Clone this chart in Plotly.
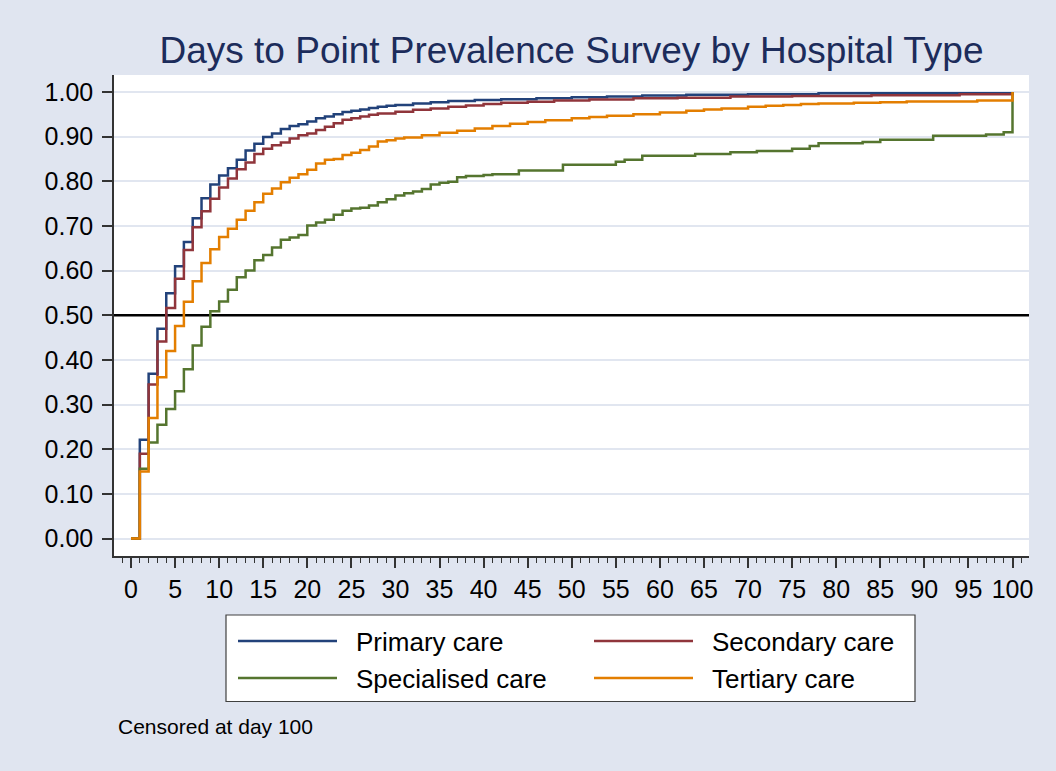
import plotly.graph_objects as go

# ---------------- data ----------------
series_names = ["Primary care", "Secondary care", "Specialised care", "Tertiary care"]
series_colors = ["#22427A", "#90353B", "#55752F", "#E37E00"]

primary_days = [0, 1, 2, 3, 4, 5, 6, 7, 8, 9, 10, 11, 12, 13, 14, 15, 16, 17, 18, 19, 20,
                21, 22, 23, 24, 25, 26, 27, 28, 29, 30, 32, 34, 36, 39, 42, 46, 50, 54, 58,
                63, 70, 78, 100]
primary_vals = [0.0, 0.221, 0.369, 0.470, 0.549, 0.610, 0.664, 0.717, 0.762, 0.793, 0.813,
                0.829, 0.848, 0.869, 0.884, 0.899, 0.907, 0.917, 0.924, 0.928, 0.934,
                0.941, 0.945, 0.950, 0.955, 0.958, 0.961, 0.964, 0.967, 0.969, 0.971,
                0.974, 0.977, 0.980, 0.982, 0.984, 0.986, 0.988, 0.990, 0.992,
                0.994, 0.995, 0.997, 1.0]

secondary_days = [0, 1, 2, 3, 4, 5, 6, 7, 8, 9, 10, 11, 12, 13, 14, 15, 16, 17, 18, 19, 20,
                  21, 22, 23, 24, 25, 26, 27, 28, 30, 32, 34, 36, 38, 40, 42, 45, 48, 52, 57,
                  62, 68, 75, 84, 94, 100]
secondary_vals = [0.0, 0.190, 0.345, 0.441, 0.516, 0.582, 0.646, 0.697, 0.733, 0.761, 0.786,
                  0.806, 0.827, 0.842, 0.861, 0.873, 0.881, 0.887, 0.896, 0.903, 0.907,
                  0.915, 0.922, 0.930, 0.938, 0.941, 0.945, 0.949, 0.952, 0.956, 0.960,
                  0.963, 0.967, 0.970, 0.973, 0.976, 0.978, 0.981, 0.983, 0.986,
                  0.987, 0.990, 0.991, 0.993, 0.995, 1.0]

specialised_days = [0, 1, 2, 3, 4, 5, 6, 7, 8, 9, 10, 11, 12, 13, 14, 15, 16, 17, 18, 19, 20,
                    21, 22, 23, 24, 25, 26, 27, 28, 29, 30, 31, 32, 33, 34, 35, 36, 37, 38, 40,
                    41, 44, 49, 55, 56, 58, 64, 68, 71, 75, 77, 78, 83, 85, 91, 97, 99, 100]
specialised_vals = [0.0, 0.156, 0.215, 0.255, 0.290, 0.330, 0.379, 0.432, 0.474, 0.509, 0.531,
                    0.557, 0.585, 0.600, 0.623, 0.635, 0.652, 0.669, 0.674, 0.680, 0.701,
                    0.708, 0.714, 0.725, 0.734, 0.739, 0.741, 0.746, 0.753, 0.760, 0.768,
                    0.773, 0.777, 0.783, 0.793, 0.797, 0.799, 0.809, 0.812, 0.814,
                    0.816, 0.824, 0.837, 0.844, 0.848, 0.857, 0.861, 0.865, 0.868, 0.873,
                    0.879, 0.885, 0.888, 0.893, 0.902, 0.905, 0.910, 1.0]

tertiary_days = [0, 1, 2, 3, 4, 5, 6, 7, 8, 9, 10, 11, 12, 13, 14, 15, 16, 17, 18, 19, 20,
                 21, 22, 23, 24, 25, 26, 27, 28, 29, 30, 31, 33, 35, 37, 39, 41, 43, 45, 47,
                 50, 52, 54, 57, 60, 63, 65, 67, 70, 72, 74, 76, 78, 82, 85, 88, 96, 100]
tertiary_vals = [0.0, 0.150, 0.270, 0.361, 0.420, 0.476, 0.530, 0.576, 0.617, 0.648, 0.675,
                 0.694, 0.714, 0.734, 0.753, 0.772, 0.784, 0.798, 0.808, 0.816, 0.826,
                 0.840, 0.848, 0.850, 0.859, 0.864, 0.870, 0.878, 0.889, 0.892, 0.896,
                 0.898, 0.903, 0.909, 0.913, 0.918, 0.924, 0.929, 0.933, 0.937,
                 0.941, 0.944, 0.947, 0.950, 0.954, 0.958, 0.961, 0.963, 0.967, 0.969,
                 0.971, 0.973, 0.974, 0.976, 0.977, 0.979, 0.981, 1.0]

y_ticks = [0.0, 0.1, 0.2, 0.3, 0.4, 0.5, 0.6, 0.7, 0.8, 0.9, 1.0]
x_ticks = list(range(0, 101, 5))
reference_line = 0.5

title_text = "Days to Point Prevalence Survey by Hospital Type"
note_text = "Censored at day 100"

# ---------------- figure ----------------
W, H = 1056, 771
ML, MR, MT, MB = 114, 27, 75, 215
PW, PH = W - ML - MR, H - MT - MB

BG = "#E0E5F0"
GRID = "#E1E6F0"
FONT = "Liberation Sans, Arial, sans-serif"

x0_px, x100_px = 131.0, 1012.5
sx = (x100_px - x0_px) / 100.0
xr = [(ML - x0_px) / sx, 100 + (W - MR - x100_px) / sx]
y0_px, y1_px = 538.5, 92.0
sy = (y0_px - y1_px)
yr = [-(H - MB - y0_px) / sy, 1 + (y1_px - MT) / sy]

all_days = [primary_days, secondary_days, specialised_days, tertiary_days]
all_vals = [primary_vals, secondary_vals, specialised_vals, tertiary_vals]

fig = go.Figure()
# horizontal reference line at 0.5 (drawn first so it sits under the curves)
fig.add_trace(go.Scatter(x=xr, y=[reference_line, reference_line], mode="lines",
                         line=dict(color="black", width=2.5), showlegend=False,
                         hoverinfo="skip"))
for name, color, d, v in zip(series_names, series_colors, all_days, all_vals):
    fig.add_trace(go.Scatter(x=d, y=v, mode="lines", name=name,
                             line=dict(color=color, width=2.5, shape="hv"),
                             showlegend=False))

def px_x(px):
    return (px - ML) / PW

def px_y(py):
    return (H - MB - py) / PH

# manual legend (Stata-style box with long line samples)
fig.add_shape(type="rect", xref="paper", yref="paper",
              x0=px_x(226), x1=px_x(915), y0=px_y(701.5), y1=px_y(615),
              line=dict(color="#404040", width=1.2), fillcolor="white", layer="above")
leg_cols = [(238, 337, 354), (594, 693, 710)]
leg_rows = [641, 678]
order = [(0, 0), (1, 0), (0, 1), (1, 1)]  # (col, row) for each series
for i, (c, r) in enumerate(order):
    lx0, lx1, tx = leg_cols[c]
    ly = leg_rows[r]
    fig.add_shape(type="line", xref="paper", yref="paper",
                  x0=px_x(lx0), x1=px_x(lx1), y0=px_y(ly), y1=px_y(ly),
                  line=dict(color=series_colors[i], width=2.5), layer="above")
    fig.add_annotation(xref="paper", yref="paper", x=px_x(tx), y=px_y(ly + 1),
                       xanchor="left", yanchor="middle", showarrow=False,
                       text=series_names[i], font=dict(family=FONT, size=26, color="black"))

fig.add_annotation(xref="paper", yref="paper", x=px_x(116), y=px_y(726),
                   xanchor="left", yanchor="middle", showarrow=False,
                   text=note_text, font=dict(family=FONT, size=21, color="black"))

fig.update_layout(
    width=W, height=H,
    margin=dict(l=ML, r=MR, t=MT, b=MB, pad=0),
    paper_bgcolor=BG, plot_bgcolor="white",
    font=dict(family=FONT, color="black"),
    title=dict(text=title_text, x=0.5, xref="paper", xanchor="center",
               y=1 - 50.5 / H, yref="container", yanchor="middle",
               font=dict(family=FONT, size=37, color="#1C2C5B")),
    showlegend=False,
    xaxis=dict(range=xr, tickvals=x_ticks, ticktext=[str(t) for t in x_ticks],
               ticks="outside", ticklen=10, tickwidth=1.5, tickcolor="#333333",
               minor=dict(dtick=1, tick0=0, ticks="outside", ticklen=5,
                          tickwidth=1.2, tickcolor="#333333", showgrid=False),
               showline=True, linecolor="#333333", linewidth=1.5,
               showgrid=False, zeroline=False,
               tickfont=dict(family=FONT, size=25, color="black")),
    yaxis=dict(range=yr, tickvals=y_ticks, tickformat=".2f",
               ticks="outside", ticklen=10, tickwidth=1.5, tickcolor="#333333",
               showline=True, linecolor="#333333", linewidth=1.5,
               showgrid=True, gridcolor=GRID, gridwidth=2, zeroline=False,
               tickfont=dict(family=FONT, size=25, color="black"),
               ticklabelstandoff=4),
)

fig.write_html("out.html", config={"displayModeBar": False},
               post_script="document.body.style.margin='0';")
